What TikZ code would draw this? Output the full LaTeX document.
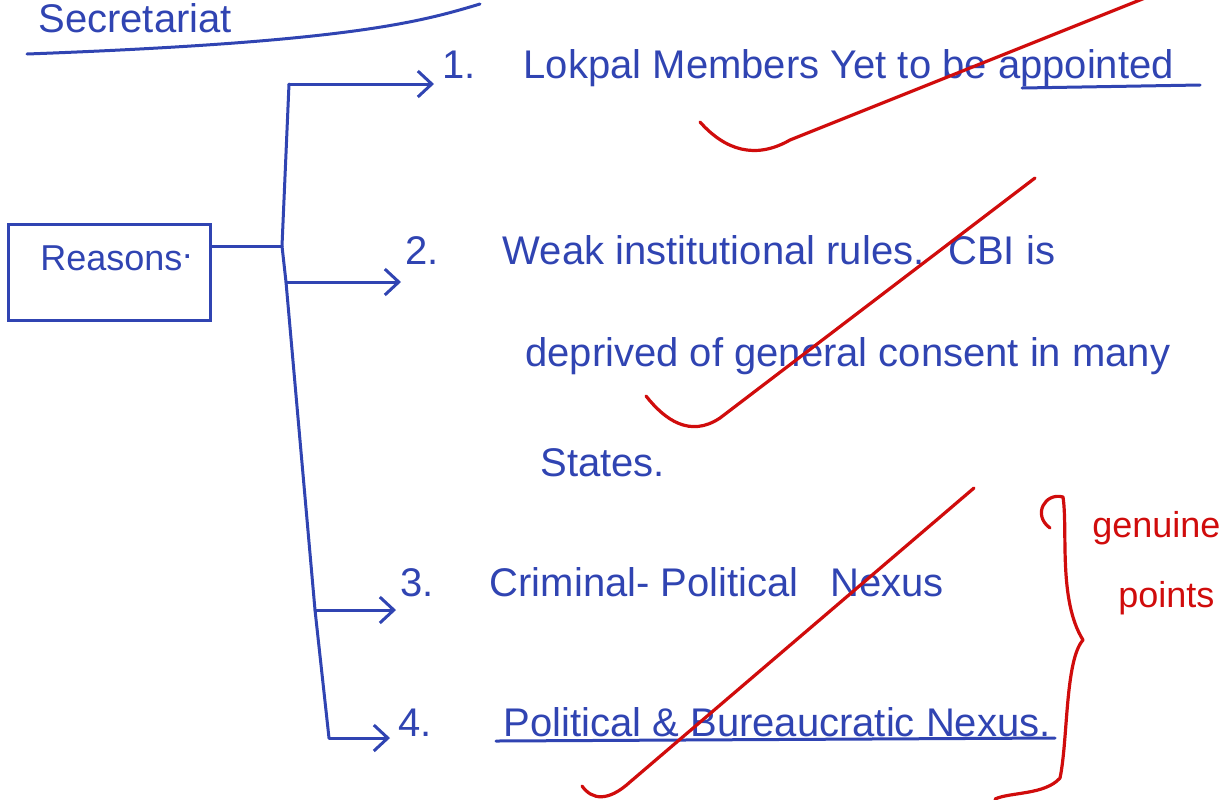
\documentclass[tikz,border=0pt]{standalone}
\usepackage{fontspec}
\setmainfont{Liberation Sans}
\usetikzlibrary{arrows.meta, positioning}
\definecolor{ink}{RGB}{48,68,178}
\definecolor{redink}{RGB}{208,12,12}
\tikzset{
        ink line/.style={draw=ink, line width=1.5pt, line cap=round, line join=round}, % blue pen strokes
        branch/.style={ink line, -{Straight Barb[length=7pt, width=13pt, line width=1.5pt]}},
        reason box/.style={draw=ink, line width=1.5pt, minimum width=101pt, minimum height=48pt},
        item/.style={anchor=west, text=ink, inner sep=0pt, font=\fontsize{20}{24}\selectfont},
        tick stroke/.style={draw=redink, line width=1.6pt, line cap=round, line join=round},
        red note/.style={anchor=west, text=redink, inner sep=0pt, font=\fontsize{18}{22}\selectfont},
    }
\begin{document}
\begin{tikzpicture}[x=0.5pt, y=-0.5pt]
    \useasboundingbox (0,0) rectangle (1219,799);
    % heading
    \node [item] (head) at (38,18) {Secretariat};
    \draw [ink line] (27,54) .. controls (350,42) and (420,22) .. (480,4);
    % reasons box and the branching line
    \node [reason box] (box) at (109,272) {};
    \node [item, font=\fontsize{18}{22}\selectfont] (reasons) at (40,258) {Reasons\raisebox{0.6ex}{.}};
    \coordinate (hub) at (282,246);
    \coordinate (top) at (289,84);
    \coordinate (j2) at (286,282);
    \coordinate (j3) at (315,610);
    \coordinate (j4) at (329,738);
    \draw [ink line] (box.east |- hub) -- (hub);
    \draw [ink line] (top) -- (hub) -- (j2) -- (j3) -- (j4);
    % the four points
    \node [item] (t1) at (442,68) {1.\hspace{1.2em}Lokpal Members Yet to be appointed};
    \node [item] (t2) at (405,250) {2.\hspace{1.6em}Weak institutional rules.\hspace{0.6em}CBI is};
    \node [item] (t2b) at (525,356) {deprived of general consent in many};
    \node [item] (t2c) at (540,463) {States.};
    \node [item] (t3) at (400,582) {3.\hspace{1.4em}Criminal- Political\hspace{0.8em}Nexus};
    \node [item] (t4) at (398,722) {4.\hspace{1.8em}Political \& Bureaucratic Nexus.};
    \draw [branch] (top) -- ([xshift=-4pt]t1.west |- top);
    \draw [branch] (j2) -- ([xshift=-2pt]t2.west |- j2);
    \draw [branch] (j3) -- ([xshift=-2pt]t3.west |- j3);
    \draw [branch] (j4) -- ([xshift=-4pt]t4.west |- j4);
    % underlines
    \draw [ink line] (1022,88) -- (1200,85);
    \draw [ink line] (496,741) -- (1055,738);
    % red ticks
    \draw [tick stroke] (700,122) .. controls (725,150) and (755,160) .. (790,140) -- (1150,-4);
    \draw [tick stroke] (646,396) .. controls (665,420) and (690,438) .. (720,418) -- (1035,178);
    \draw [tick stroke] (582,786) .. controls (592,800) and (608,802) .. (630,782) -- (974,488);
    % red brace and note
    \draw [tick stroke] (1050,528) .. controls (1032,515) and (1045,492) .. (1063,497)
        .. controls (1068,530) and (1058,600) .. (1083,640)
        .. controls (1065,660) and (1068,740) .. (1060,778)
        .. controls (1045,795) and (1010,792) .. (995,799);
    \node [red note] (note1) at (1092,528) {genuine};
    \node [red note] (note2) at (1118,598) {points};
\end{tikzpicture}
\end{document}
